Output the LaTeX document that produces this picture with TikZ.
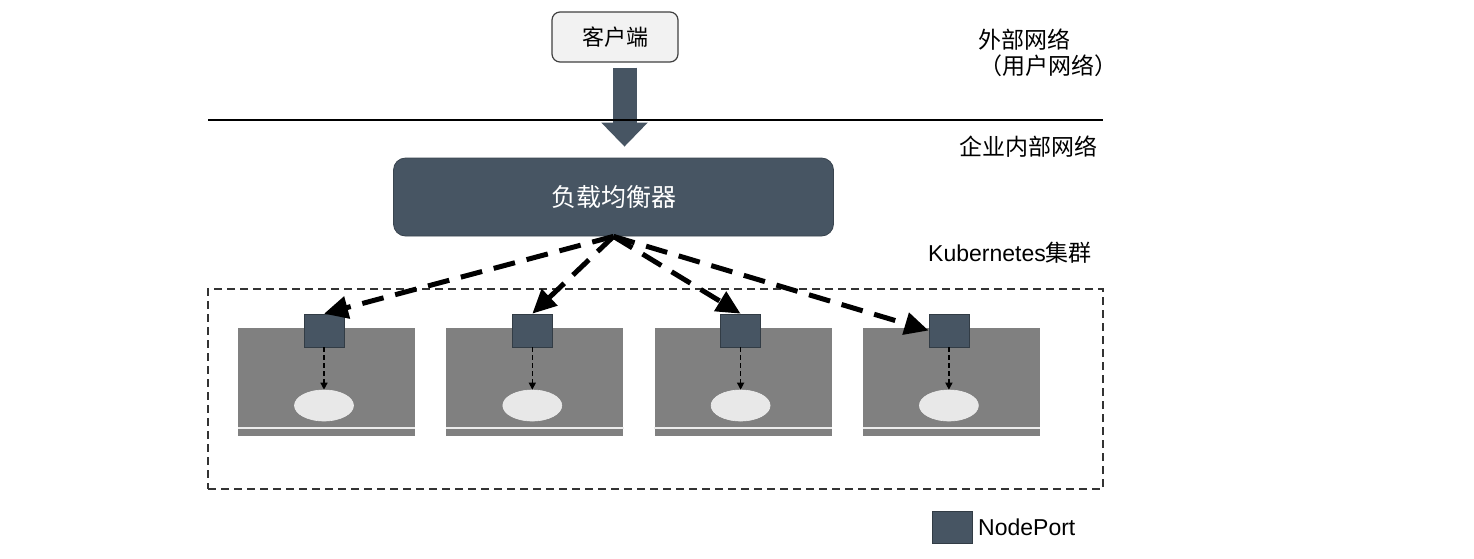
\documentclass[tikz,border=0pt]{standalone}
\usepackage{fontspec}
\setmainfont{Liberation Sans}
\newfontfamily\cjk{Noto Sans CJK SC}
\usetikzlibrary{arrows.meta,shapes.geometric,calc}
\definecolor{slate}{HTML}{475563}
\definecolor{hostgray}{HTML}{808080}
\definecolor{podfill}{HTML}{E8E8E8}
\definecolor{clientfill}{HTML}{F2F2F2}
\begin{document}
\begin{tikzpicture}[x=1pt,y=-1pt,
  clientbox/.style={draw=black!75,line width=1.2pt,fill=clientfill,rounded corners=8pt,minimum width=126pt,minimum height=50pt,inner sep=0pt,font=\cjk\fontsize{22}{25}\selectfont},
  lbbox/.style={fill=slate,draw=slate!80!black,line width=0.8pt,rounded corners=12pt,minimum width=440pt,minimum height=78pt,inner sep=0pt,text=white,font=\cjk\fontsize{25}{28}\selectfont},
  hostbox/.style={fill=hostgray,draw=none,minimum width=177pt,minimum height=108pt,inner sep=0pt},
  portbox/.style={fill=slate,draw=slate!70!black,line width=0.6pt,minimum width=40pt,minimum height=33pt,inner sep=0pt},
  podell/.style={ellipse,fill=podfill,draw=white!85!gray,line width=0.6pt,minimum width=59pt,minimum height=31pt,inner sep=0pt},
  lbarrow/.style={line width=5pt,dash pattern=on 22pt off 12pt,-{Triangle[length=24pt,width=22pt]}},
  podarrow/.style={line width=1.3pt,dash pattern=on 5pt off 3pt,-{Triangle[length=7pt,width=7pt]}},
  bigarrow/.style={draw=slate,line width=24pt,-{Triangle[length=24pt,width=45pt]}},
  lbl/.style={inner sep=0pt,anchor=west,font=\fontsize{23}{27}\selectfont}
]
\useasboundingbox (0,0) rectangle (1474,558);

% client and load balancer
\node[clientbox] (client) at (615,37) {客户端};
\node[lbbox] (lb) at (613.5,197) {负载均衡器};
\coordinate (bt) at ([xshift=11pt,yshift=11pt]lb.north);
\draw[bigarrow] ([yshift=-5pt]bt |- client.south) -- (bt);

% network boundary
\draw[line width=1.8pt] (208,120) coordinate (lineL) -- (1103,120) coordinate (lineR);

% labels
\node[lbl] (ext1) at (978,40) {\cjk 外部网络};
\node[lbl] (ext2) at (979,66) {\cjk （用户网络）};
\node[lbl] (corp) at (959,147) {\cjk 企业内部网络};
\node[lbl] (k8s) at (928,253) {Kubernetes{\cjk 集群}};

% cluster
\node[draw=black!80,line width=1.5pt,dash pattern=on 8pt off 5pt,minimum width=895pt,minimum height=200pt,inner sep=0pt] (cluster) at (655.5,389) {};

\foreach \i in {1,2,3,4}{
  \pgfmathsetmacro{\cx}{115.7+208.3*\i}
  \node[hostbox] (host\i) at (\cx+2.5,381.5) {};
  \draw[white!85!gray,line width=2pt] ($(host\i.west)+(0,46.5)$) -- ($(host\i.east)+(0,46.5)$);
  \node[portbox] (port\i) at (\cx,330.5) {};
  \node[podell] (pod\i) at (\cx,405.5) {};
  \draw[podarrow] (port\i.south) -- (pod\i.north);
}

\coordinate (src) at (lb.south);
\draw[lbarrow] (src) -- (port1.north);
\draw[lbarrow] (src) -- (port2.north);
\draw[lbarrow] (src) -- (port3.north);
\draw[lbarrow] (src) -- (port4.west);

% legend
\node[portbox,minimum width=40pt,minimum height=32pt] (legbox) at (952,527) {};
\node[lbl] (legtxt) at (978,527) {NodePort};
\end{tikzpicture}
\end{document}
